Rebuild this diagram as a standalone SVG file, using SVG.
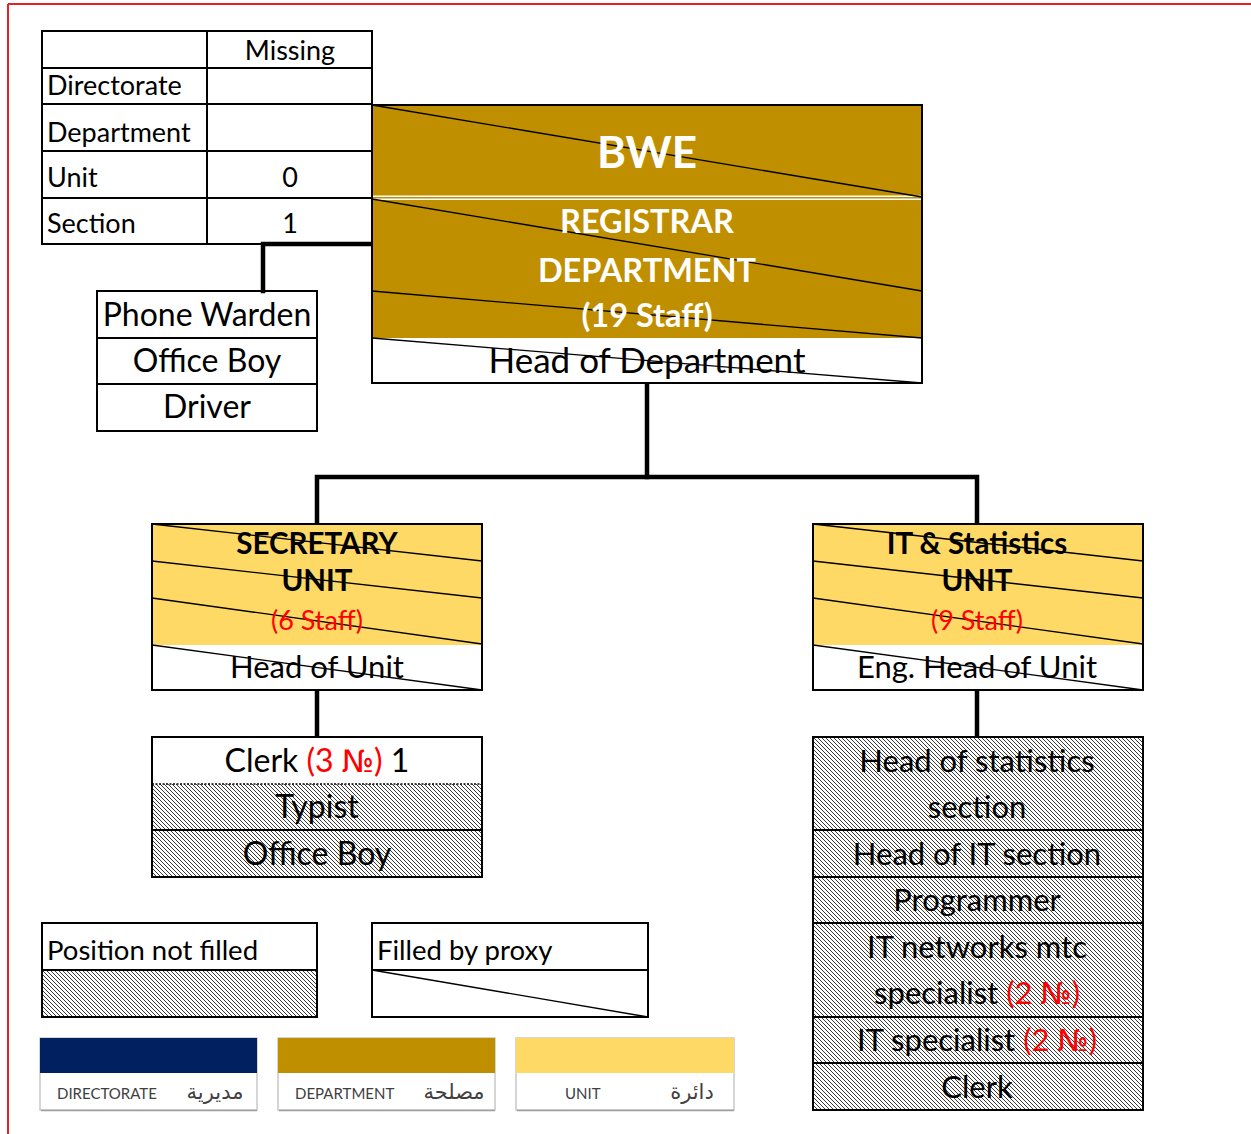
<svg xmlns="http://www.w3.org/2000/svg" width="1251" height="1134" viewBox="0 0 1251 1134">
  <defs>
    <!-- light down-diagonal fill for vacant positions -->
    <pattern id="hatch" width="4" height="4" patternUnits="userSpaceOnUse">
      <rect width="4" height="4" fill="#ffffff"/>
      <path d="M-1,-1 L5,5 M-1,3 L1,5 M3,-1 L5,1" stroke="#3a3a3a" stroke-width="1"/>
    </pattern>
    <style>
      text { font-family: "Lato", "Liberation Sans", sans-serif; fill: #000; }
      .cell { stroke: #000; stroke-width: 2; fill: none; }
      .sep { stroke: #000; stroke-width: 2; }
      .diag { stroke: #000; stroke-width: 1.3; }
      .conn { stroke: #000; stroke-width: 4.5; fill: none; stroke-linecap: square; }
      .tbl { font-size: 27px; }
      .c { font-size: 32px; text-anchor: middle; }
      .c31 { font-size: 31px; }
      .b { font-weight: bold; }
      .w { fill: #ffffff; }
      .red { fill: #ff0000; }
      .no { font-family: "DejaVu Sans", sans-serif; font-size: 0.97em; }
      .t-bwe { font-size: 44px; }
      .t-dep { font-size: 32.5px; }
      .t-head { font-size: 35px; }
      .t-unit { font-size: 29.5px; }
      .t-staff { font-size: 27px; }
      .t-hou { font-size: 31px; }
      .lg { font-size: 27.5px; }
      .small { font-size: 15px; fill: #404040; }
      .ar { font-family: "DejaVu Sans", sans-serif; font-size: 21px; fill: #404040; text-anchor: middle; }
      .swatch { fill: #ffffff; stroke: #c8c8c8; stroke-width: 1.5; }
    </style>
  </defs>

  <rect width="1251" height="1134" fill="#ffffff"/>

  <!-- page frame -->
  <g id="frame">
    <line x1="8" y1="4" x2="1251" y2="4" stroke="#e02424" stroke-width="2"/>
    <line x1="8" y1="4" x2="8" y2="1134" stroke="#e02424" stroke-width="2"/>
  </g>

  <!-- vacancy count table -->
  <g id="node-missing-table">
    <rect x="42" y="31" width="330" height="213" class="cell"/>
    <line x1="207" y1="31" x2="207" y2="245" class="sep"/>
    <line x1="42" y1="68" x2="372" y2="68" class="sep"/>
    <line x1="42" y1="104" x2="372" y2="104" class="sep"/>
    <line x1="42" y1="151" x2="372" y2="151" class="sep"/>
    <line x1="42" y1="198" x2="372" y2="198" class="sep"/>
    <text x="290" y="60" class="tbl" text-anchor="middle">Missing</text>
    <text x="47" y="95" class="tbl">Directorate</text>
    <text x="47" y="142" class="tbl">Department</text>
    <text x="47" y="187" class="tbl">Unit</text>
    <text x="47" y="233" class="tbl">Section</text>
    <text x="290" y="187" class="tbl" text-anchor="middle">0</text>
    <text x="290" y="233" class="tbl" text-anchor="middle">1</text>
  </g>

  <!-- connectors -->
  <g id="connectors">
    <polyline points="372,244 263,244 263,291" class="conn"/>
    <line x1="647" y1="383" x2="647" y2="477" class="conn"/>
    <polyline points="317,524 317,477 977,477 977,524" class="conn"/>
    <line x1="317" y1="690" x2="317" y2="737" class="conn"/>
    <line x1="977" y1="690" x2="977" y2="737" class="conn"/>
  </g>

  <!-- department head box -->
  <g id="node-registrar">
    <rect x="372" y="105" width="550" height="233" fill="#bf8f00"/>
    <rect x="372" y="338" width="550" height="45" fill="#ffffff"/>
    <line x1="372" y1="196.2" x2="922" y2="196.2" stroke="#ffffff" stroke-width="1.6"/>
    <line x1="372" y1="199.2" x2="922" y2="199.2" stroke="#ffffff" stroke-width="1.6"/>
    <line x1="372" y1="105" x2="922" y2="197" class="diag"/>
    <line x1="372" y1="199" x2="922" y2="291" class="diag"/>
    <line x1="372" y1="291" x2="922" y2="338" class="diag"/>
    <line x1="372" y1="338" x2="922" y2="383" class="diag"/>
    <text x="647" y="168" class="c b w t-bwe">BWE</text>
    <text x="647" y="233" class="c b w t-dep">REGISTRAR</text>
    <text x="647" y="282" class="c b w t-dep">DEPARTMENT</text>
    <text x="647" y="327" class="c b w t-dep">(19 Staff)</text>
    <text x="647" y="373" class="c t-head">Head of Department</text>
    <rect x="372" y="105" width="550" height="278" class="cell"/>
  </g>

  <!-- support staff attached to the department -->
  <g id="node-support-staff">
    <rect x="97" y="291" width="220" height="140" fill="#ffffff" class="cell"/>
    <line x1="97" y1="338" x2="317" y2="338" class="sep"/>
    <line x1="97" y1="384" x2="317" y2="384" class="sep"/>
    <text x="207" y="326" class="c">Phone Warden</text>
    <text x="207" y="372" class="c">Office Boy</text>
    <text x="207" y="418" class="c">Driver</text>
  </g>

  <!-- secretary unit -->
  <g id="node-secretary-unit">
    <rect x="152" y="524" width="330" height="121" fill="#ffd966"/>
    <rect x="152" y="645" width="330" height="45" fill="#ffffff"/>
    <line x1="152" y1="524" x2="482" y2="561" class="diag"/>
    <line x1="152" y1="561" x2="482" y2="598" class="diag"/>
    <line x1="152" y1="598" x2="482" y2="644" class="diag"/>
    <line x1="152" y1="645" x2="482" y2="690" class="diag"/>
    <text x="317" y="554" class="c b t-unit">SECRETARY</text>
    <text x="317" y="591" class="c b t-unit">UNIT</text>
    <text x="317" y="630" class="c red t-staff">(6 Staff)</text>
    <text x="317" y="678" class="c t-hou">Head of Unit</text>
    <rect x="152" y="524" width="330" height="166" class="cell"/>
  </g>

  <g id="node-secretary-staff">
    <rect x="152" y="737" width="330" height="47" fill="#ffffff"/>
    <rect x="152" y="784" width="330" height="93" fill="url(#hatch)"/>
    <line x1="152" y1="784" x2="482" y2="784" stroke="#000" stroke-width="1.5" stroke-dasharray="2 1.5"/>
    <line x1="152" y1="830" x2="482" y2="830" class="sep"/>
    <text x="317" y="772" class="c">Clerk <tspan class="red">(3 <tspan class="no">№</tspan>)</tspan> 1</text>
    <text x="317" y="818" class="c">Typist</text>
    <text x="317" y="865" class="c">Office Boy</text>
    <rect x="152" y="737" width="330" height="140" class="cell"/>
  </g>

  <!-- IT and statistics unit -->
  <g id="node-it-unit">
    <rect x="813" y="524" width="330" height="121" fill="#ffd966"/>
    <rect x="813" y="645" width="330" height="45" fill="#ffffff"/>
    <line x1="813" y1="524" x2="1143" y2="561" class="diag"/>
    <line x1="813" y1="561" x2="1143" y2="598" class="diag"/>
    <line x1="813" y1="598" x2="1143" y2="644" class="diag"/>
    <line x1="813" y1="645" x2="1143" y2="690" class="diag"/>
    <text x="977" y="554" class="c b t-unit">IT &amp; Statistics</text>
    <text x="977" y="591" class="c b t-unit">UNIT</text>
    <text x="977" y="630" class="c red t-staff">(9 Staff)</text>
    <text x="977" y="678" class="c t-hou">Eng. Head of Unit</text>
    <rect x="813" y="524" width="330" height="166" class="cell"/>
  </g>

  <g id="node-it-staff">
    <rect x="813" y="737" width="330" height="373" fill="url(#hatch)"/>
    <line x1="813" y1="830" x2="1143" y2="830" class="sep"/>
    <line x1="813" y1="877" x2="1143" y2="877" class="sep"/>
    <line x1="813" y1="923" x2="1143" y2="923" class="sep"/>
    <line x1="813" y1="1017" x2="1143" y2="1017" class="sep"/>
    <line x1="813" y1="1063" x2="1143" y2="1063" class="sep"/>
    <text x="977" y="772" class="c c31">Head of statistics</text>
    <text x="977" y="818" class="c c31">section</text>
    <text x="977" y="865" class="c c31">Head of IT section</text>
    <text x="977" y="911" class="c c31">Programmer</text>
    <text x="977" y="958" class="c c31">IT networks mtc</text>
    <text x="977" y="1004" class="c c31">specialist <tspan class="red">(2 <tspan class="no">№</tspan>)</tspan></text>
    <text x="977" y="1051" class="c c31">IT specialist <tspan class="red">(2 <tspan class="no">№</tspan>)</tspan></text>
    <text x="977" y="1098" class="c c31">Clerk</text>
    <rect x="813" y="737" width="330" height="373" class="cell"/>
  </g>

  <!-- key: position status -->
  <g id="legend-not-filled">
    <rect x="42" y="970" width="275" height="47" fill="url(#hatch)"/>
    <line x1="42" y1="970" x2="317" y2="970" class="sep"/>
    <text x="47" y="960" class="lg">Position not filled</text>
    <rect x="42" y="923" width="275" height="94" class="cell"/>
  </g>

  <g id="legend-proxy">
    <line x1="372" y1="970" x2="648" y2="970" class="sep"/>
    <line x1="372" y1="970" x2="648" y2="1017" class="diag"/>
    <text x="377" y="960" class="lg">Filled by proxy</text>
    <rect x="372" y="923" width="276" height="94" class="cell"/>
  </g>

  <!-- key: level colours -->
  <g id="legend-directorate">
    <rect x="40" y="1038" width="217" height="72" class="swatch"/>
    <rect x="40" y="1038" width="217" height="35" fill="#002060"/>
    <line x1="41" y1="1110.5" x2="257" y2="1110.5" stroke="#a0a0a0" stroke-width="1.5"/>
    <text x="57" y="1099" class="small">DIRECTORATE</text>
    <text x="215" y="1099" class="ar">مديرية</text>
  </g>

  <g id="legend-department">
    <rect x="278" y="1038" width="217" height="72" class="swatch"/>
    <rect x="278" y="1038" width="217" height="35" fill="#bf8f00"/>
    <line x1="279" y1="1110.5" x2="495" y2="1110.5" stroke="#a0a0a0" stroke-width="1.5"/>
    <text x="295" y="1099" class="small">DEPARTMENT</text>
    <text x="454" y="1099" class="ar">مصلحة</text>
  </g>

  <g id="legend-unit">
    <rect x="516" y="1038" width="218" height="72" class="swatch"/>
    <rect x="516" y="1038" width="218" height="35" fill="#ffd966"/>
    <line x1="517" y1="1110.5" x2="734" y2="1110.5" stroke="#a0a0a0" stroke-width="1.5"/>
    <text x="565" y="1099" class="small">UNIT</text>
    <text x="692" y="1099" class="ar">دائرة</text>
  </g>
</svg>
